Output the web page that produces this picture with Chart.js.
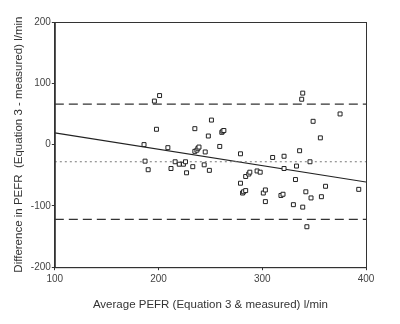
<!DOCTYPE html>
<html>
<head>
<meta charset="utf-8">
<script src="https://cdn.jsdelivr.net/npm/chart.js@4.4.0/dist/chart.umd.min.js"></script>
<style>
  html, body { margin: 0; padding: 0; background: #fff; }
  #wrap { width: 400px; height: 324px; }
</style>
</head>
<body>
<div id="wrap"><canvas id="chart" width="400" height="324"></canvas></div>
<script>
// average PEFR (x) and difference (y)
const avgPefr = [186, 187, 190, 196, 201, 198, 209, 212, 216, 220, 224, 226, 227, 233, 235, 235, 237, 238, 239, 244,
  245, 248, 249, 251, 259, 261, 262, 263, 279, 279, 281, 282, 284, 284, 287, 288, 295, 298, 301, 303,
  303, 310, 318, 320, 321, 321, 330, 332, 333, 336, 338, 339, 339, 342, 343, 346, 347, 349, 356, 357,
  361, 375, 393];
const diffPefr = [0, -27, -41, 71, 80, 25, -5, -39, -28, -32, -32, -28, -46, -36, 26, -11, -9, -6, -4, -33,
  -12, 14, -42, 40, -3, 20, 22, 23, -15, -63, -79, -77, -75, -52, -48, -45, -43, -45, -79, -74,
  -93, -21, -83, -81, -19, -39, -98, -57, -35, -10, 74, 84, -102, -77, -134, -28, -87, 38, 11, -85,
  -68, 50, -73];

const lineX = [100, 400];
const upperLimit = [66, 66];
const meanDiff = [-28, -28];
const lowerLimit = [-122, -122];
const regression = [19, -61];

const xTicks = [100, 200, 300, 400];
const yTicks = [-200, -100, 0, 100, 200];

function toPts(xs, ys) {
  return xs.map((x, i) => ({ x: x, y: ys[i] }));
}

// frame round the plot area
const boxPlugin = {
  id: 'box',
  afterDraw(chart) {
    const a = chart.chartArea;
    const ctx = chart.ctx;
    ctx.save();
    ctx.strokeStyle = '#333';
    ctx.lineWidth = 1;
    ctx.strokeRect(a.left + 0.5, a.top + 0.5, a.right - a.left, a.bottom - a.top);
    ctx.restore();
  }
};

const tickFont = { family: 'Liberation Sans, Arial, sans-serif', size: 10 };
const titleFont = { family: 'Liberation Sans, Arial, sans-serif', size: 11.5 };

new Chart(document.getElementById('chart'), {
  type: 'scatter',
  data: {
    datasets: [
      {
        label: 'points',
        data: toPts(avgPefr, diffPefr),
        pointStyle: 'rect',
        pointRadius: 2.8,
        backgroundColor: '#fff',
        borderColor: '#222',
        borderWidth: 1
      },
      {
        type: 'line', label: 'upper', data: toPts(lineX, upperLimit),
        borderColor: '#333', borderWidth: 1.3, borderDash: [9, 5], pointRadius: 0
      },
      {
        type: 'line', label: 'mean', data: toPts(lineX, meanDiff),
        borderColor: '#777', borderWidth: 1, borderDash: [2, 3], pointRadius: 0
      },
      {
        type: 'line', label: 'lower', data: toPts(lineX, lowerLimit),
        borderColor: '#333', borderWidth: 1.3, borderDash: [9, 5], pointRadius: 0
      },
      {
        type: 'line', label: 'regression', data: toPts(lineX, regression),
        borderColor: '#222', borderWidth: 1.2, pointRadius: 0
      }
    ]
  },
  options: {
    responsive: false,
    animation: false,
    layout: { padding: { top: 22, right: 34, left: 8, bottom: 8 } },
    plugins: { legend: { display: false }, tooltip: { enabled: false } },
    scales: {
      x: {
        type: 'linear', min: 100, max: 400,
        afterBuildTicks(s) { s.ticks = xTicks.map(v => ({ value: v })); },
        grid: { drawOnChartArea: false, drawTicks: true, tickLength: 3, color: '#333' },
        border: { color: '#333' },
        ticks: { color: '#444', font: tickFont, padding: 3, maxRotation: 0 },
        title: {
          display: true, text: 'Average PEFR (Equation 3 & measured) l/min',
          color: '#333', font: titleFont, padding: { top: 10 }
        }
      },
      y: {
        type: 'linear', min: -200, max: 200,
        afterBuildTicks(s) { s.ticks = yTicks.map(v => ({ value: v })); },
        grid: { drawOnChartArea: false, drawTicks: true, tickLength: 3, color: '#333' },
        border: { color: '#333' },
        ticks: { color: '#444', font: tickFont, padding: 1 },
        title: {
          display: true, text: 'Difference in PEFR  (Equation 3 - measured) l/min',
          color: '#333', font: titleFont, padding: { bottom: 4 }
        }
      }
    }
  },
  plugins: [boxPlugin]
});
</script>
</body>
</html>
